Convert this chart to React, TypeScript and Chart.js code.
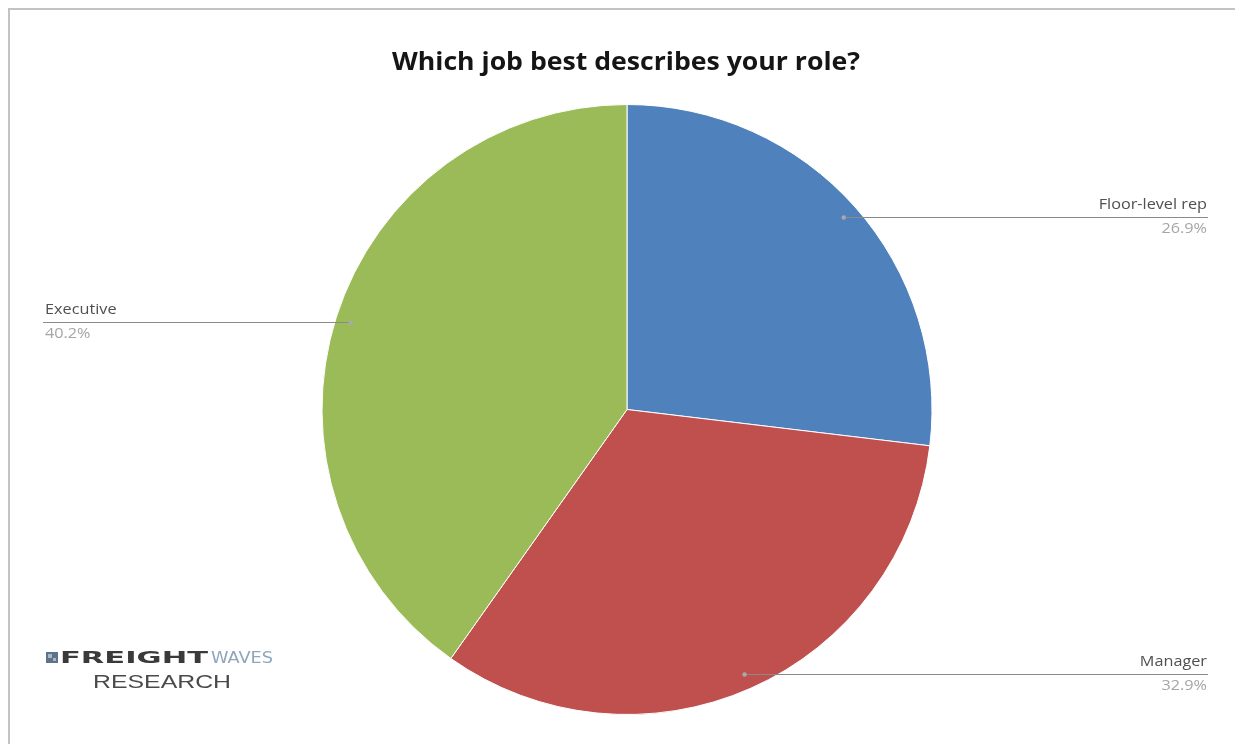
import React, { useEffect, useRef } from 'react';
import { Chart, registerables } from 'chart.js';

Chart.register(...registerables);

const categories = ['Floor-level rep', 'Manager', 'Executive'];
const values = [26.9, 32.9, 40.2];
const sliceColors = ['#4F81BD', '#C0504D', '#9BBB59'];
const titleText = 'Which job best describes your role?';

const W = 1235;
const H = 744;

function fitText(ctx: CanvasRenderingContext2D, text: string, x: number, y: number, width: number, font: string, color: string, align: 'left' | 'center') {
  ctx.save();
  ctx.font = font;
  ctx.fillStyle = color;
  ctx.textBaseline = 'alphabetic';
  ctx.textAlign = 'left';
  const w = ctx.measureText(text).width;
  const sx = width / w;
  const left = align === 'center' ? x - width / 2 : x;
  ctx.translate(left, y);
  ctx.scale(sx, 1);
  ctx.fillText(text, 0, 0);
  ctx.restore();
}

function stretchText(ctx: CanvasRenderingContext2D, text: string, x: number, y: number, sx: number, font: string, color: string, align: 'left' | 'right') {
  ctx.save();
  ctx.font = font;
  ctx.fillStyle = color;
  ctx.textBaseline = 'middle';
  ctx.textAlign = 'left';
  const w = ctx.measureText(text).width * sx;
  const left = align === 'right' ? x - w : x;
  ctx.translate(left, y);
  ctx.scale(sx, 1);
  ctx.fillText(text, 0, 0);
  ctx.restore();
}

export default function App() {
  const ref = useRef<HTMLCanvasElement>(null);

  useEffect(() => {
    document.body.style.margin = '0';
    document.body.style.overflow = 'hidden';
    if (!ref.current) return;

    const decor = {
      id: 'decor',
      afterDraw(chart: any) {
        const ctx: CanvasRenderingContext2D = chart.ctx;
        // frame
        ctx.save();
        ctx.strokeStyle = '#c3c3c3';
        ctx.lineWidth = 2;
        ctx.beginPath();
        ctx.moveTo(9, H);
        ctx.lineTo(9, 9);
        ctx.lineTo(W, 9);
        ctx.stroke();
        ctx.restore();

        // title
        fitText(ctx, titleText, 626, 70, 468, 'bold 25px "Open Sans"', '#151515', 'center');

        // labels
        const meta = chart.getDatasetMeta(0);
        meta.data.forEach((arc: any, i: number) => {
          const p = arc.getProps(['x', 'y', 'startAngle', 'endAngle', 'outerRadius'], true);
          const mid = (p.startAngle + p.endAngle) / 2;
          const r = p.outerRadius * 0.95;
          const px = p.x + Math.cos(mid) * r;
          const py = Math.round(p.y + Math.sin(mid) * r) + 0.5;
          const right = Math.cos(mid) >= 0;
          const endX = right ? 1208 : 43;
          ctx.save();
          ctx.strokeStyle = '#8a8a8a';
          ctx.lineWidth = 1;
          ctx.beginPath();
          ctx.moveTo(px, py);
          ctx.lineTo(endX, py);
          ctx.stroke();
          ctx.fillStyle = '#a9a9a9';
          ctx.beginPath();
          ctx.arc(px, py, 2.2, 0, Math.PI * 2);
          ctx.fill();
          ctx.restore();
          const tx = right ? 1207 : 45;
          const al = right ? 'right' : 'left';
          stretchText(ctx, categories[i], tx, py - 13, 1.12, '14.5px "Open Sans"', '#505050', al);
          stretchText(ctx, values[i].toFixed(1) + '%', tx, py + 11, 1.12, '14.5px "Open Sans"', '#a6a6a6', al);
        });

        // logo
        ctx.save();
        ctx.fillStyle = '#5d7389';
        ctx.fillRect(46, 652, 12, 11);
        ctx.fillStyle = '#a8b8c8';
        ctx.fillRect(48, 654, 4, 4);
        ctx.fillRect(53, 658, 3, 3);
        ctx.restore();
        fitText(ctx, 'FREIGHT', 60, 663, 148, 'bold 15.5px "DejaVu Sans"', '#3a3a3a', 'left');
        fitText(ctx, 'WAVES', 211, 663, 62, '15.5px "DejaVu Sans"', '#8ea7bb', 'left');
        fitText(ctx, 'RESEARCH', 93, 688, 138, '18px "Liberation Sans"', '#4a4a4a', 'left');
      },
    };

    const chart = new Chart(ref.current, {
      type: 'pie',
      data: {
        labels: categories,
        datasets: [
          {
            data: values,
            backgroundColor: sliceColors,
            borderColor: '#ffffff',
            borderWidth: 1,
            hoverOffset: 0,
          },
        ],
      },
      options: {
        animation: false,
        responsive: false,
        maintainAspectRatio: false,
        layout: { padding: { left: 321, right: 302, top: 104, bottom: 29 } },
        plugins: {
          legend: { display: false },
          tooltip: { enabled: false },
          title: { display: false },
        },
        events: [],
      },
      plugins: [decor],
    });
    return () => chart.destroy();
  }, []);

  return (
    <div style={{ position: 'absolute', left: 0, top: 0, width: W, height: H, background: '#fff' }}>
      <canvas ref={ref} width={W} height={H} style={{ width: W, height: H, display: 'block' }} />
    </div>
  );
}
